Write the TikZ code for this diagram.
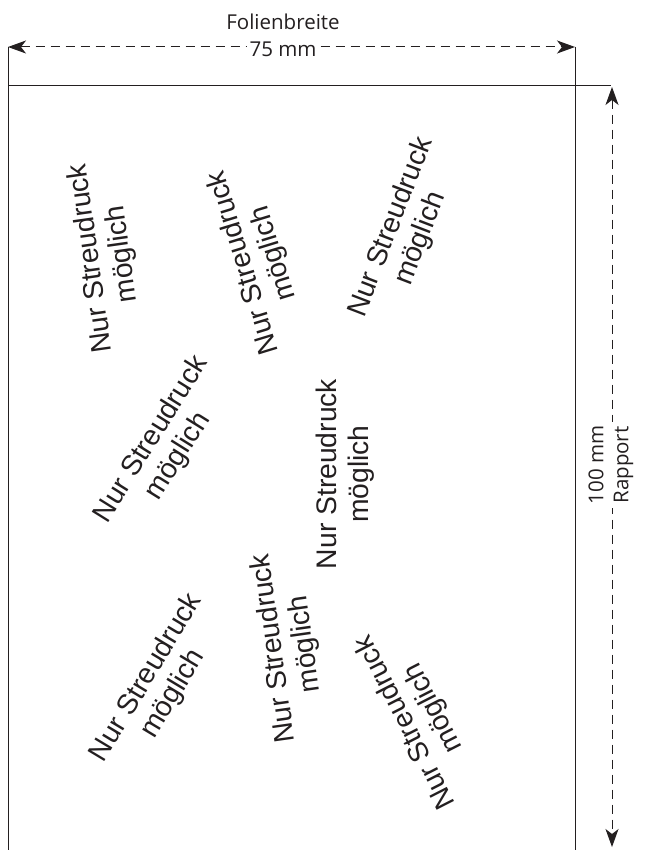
\documentclass[tikz,border=0pt]{standalone}
\usepackage{fontspec}
\setmainfont{Liberation Sans}
\newfontfamily\labfont{Open Sans}
\usetikzlibrary{arrows.meta}
\definecolor{ink}{HTML}{231F20}
\begin{document}
\begin{tikzpicture}[x=1pt,y=1pt,
  frame/.style={draw=ink, line width=1pt},
  dim/.style={draw=ink, line width=1pt, dash pattern=on 9pt off 6pt,
    {Stealth[length=18pt,width=13pt,inset=5pt]}-{Stealth[length=18pt,width=13pt,inset=5pt]}},
  blk/.style={align=center, inner sep=0pt, text=ink, font=\fontsize{28.3}{31.5}\selectfont},
  lab/.style={inner sep=0pt, text=ink, font=\labfont\fontsize{20.5}{25}\selectfont}]
\useasboundingbox (0,0) rectangle (645,-850);
% frame
\coordinate (ltop) at (8,-47);
\coordinate (lbot) at (8,-850);
\coordinate (rtop) at (575,-47);
\coordinate (rbot) at (575,-850);
\coordinate (hl) at (8,-86);
\coordinate (hr) at (611,-86);
\draw[frame] (ltop) -- (lbot);
\draw[frame] (rtop) -- (rbot);
\draw[frame] (hl) -- (hr);
% dimensions
\coordinate (wl) at (8,-47);
\coordinate (wr) at (575,-47);
\coordinate (vt) at (612,-87);
\coordinate (vb) at (612,-847);
\draw[dim] (wl) -- (wr);
\draw[dim] (vt) -- (vb);
\node[lab] (fb) at (283,-22) {Folienbreite};
\node[lab, fill=white, inner xsep=3pt, inner ysep=2pt] (w75) at (283,-49) {75 mm};
\node[lab, rotate=90, fill=white, align=center, inner sep=4pt] (rap) at (611,-465) {100 mm\\Rapport};
% text blocks
\node[blk, rotate=98]  (b1) at (107,-256) {Nur Streudruck\\möglich};
\node[blk, rotate=107] (b2) at (259,-258) {Nur Streudruck\\möglich};
\node[blk, rotate=69]  (b3) at (406,-233) {Nur Streudruck\\möglich};
\node[blk, rotate=58]  (b4) at (165,-448) {Nur Streudruck\\möglich};
\node[blk, rotate=90]  (b5) at (345,-474) {Nur Streudruck\\möglich};
\node[blk, rotate=59]  (b6) at (160,-686) {Nur Streudruck\\möglich};
\node[blk, rotate=98]  (b7) at (290,-646) {Nur Streudruck\\möglich};
\node[blk, rotate=117] (b8) at (420,-715) {Nur Streudruck\\möglich};
\end{tikzpicture}
\end{document}
